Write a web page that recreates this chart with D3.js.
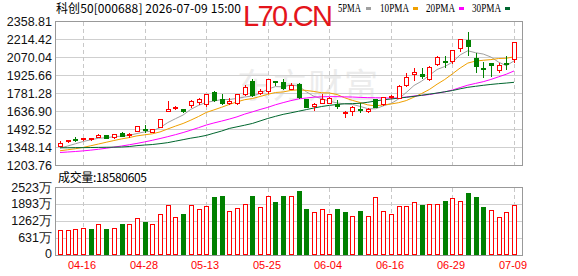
<!DOCTYPE html>
<html>
<head>
<meta charset="utf-8">
<title>科创50 日K</title>
<script src="https://d3js.org/d3.v7.min.js"></script>
<style>
body { margin: 0; background: #fff; }
svg { display: block; }
.ylab { font: 12.5px "Liberation Sans", Arial, sans-serif; fill: #111; }
.xlab { font: 11.5px "Liberation Sans", Arial, sans-serif; fill: #f00; }
.title { font: 12px "Noto Sans CJK SC", sans-serif; fill: #000; }
.legend { font: 11.5px "Liberation Serif", serif; fill: #000; }
</style>
</head>
<body>
<script>
// daily candles, 04-13 .. 07-09
var dates = ["04-13","04-14","04-15","04-16","04-17","04-20","04-21","04-22","04-23","04-24",
  "04-27","04-28","04-29","04-30","05-06","05-07","05-08","05-11","05-12","05-13",
  "05-14","05-15","05-18","05-19","05-20","05-21","05-22","05-25","05-26","05-27",
  "05-28","05-29","06-01","06-02","06-03","06-04","06-05","06-08","06-09","06-10",
  "06-11","06-12","06-15","06-16","06-17","06-18","06-22","06-23","06-24","06-25",
  "06-26","06-29","06-30","07-01","07-02","07-03","07-06","07-07","07-08","07-09"];

var open = [1358,1400,1414,1411,1412,1430,1444,1426,1463,1443,
  1479,1494,1472,1511,1637,1658,1653,1688,1712,1691,
  1789,1733,1698,1703,1770,1880,1778,1797,1880,1872,
  1813,1853,1730,1680,1703,1703,1697,1622,1637,1654,
  1638,1730,1690,1749,1745,1845,1932,1933,1893,2011,
  2040,2040,2139,2206,2060,1982,2019,1966,2020,2051];
var high = [1398,1405,1426,1424,1424,1450,1446,1453,1471,1464,
  1519,1524,1495,1575,1720,1680,1656,1725,1744,1777,
  1797,1773,1741,1777,1845,1893,1810,1897,1881,1897,
  1858,1860,1733,1705,1770,1747,1725,1636,1680,1702,
  1661,1735,1750,1765,1845,1939,1984,1978,2000,2080,
  2078,2130,2215,2268,2104,2032,2019,2024,2078,2190];
var low = [1355,1390,1399,1404,1406,1426,1420,1424,1436,1428,
  1476,1470,1465,1505,1633,1652,1630,1672,1696,1680,
  1717,1690,1695,1690,1765,1760,1770,1785,1845,1815,
  1810,1745,1665,1645,1698,1698,1657,1586,1605,1626,
  1629,1668,1685,1745,1740,1840,1885,1900,1887,2005,
  1987,2020,2118,2090,1952,1912,1920,1952,1971,2030];
var close = [1380,1403,1410,1419,1418,1443,1423,1452,1439,1451,
  1516,1488,1490,1572,1653,1672,1637,1717,1731,1773,
  1725,1698,1719,1773,1831,1765,1799,1893,1876,1819,
  1845,1751,1667,1690,1730,1743,1677,1630,1669,1650,
  1652,1672,1746,1760,1837,1912,1952,1921,1992,2072,
  2032,2126,2212,2158,1994,1979,2006,2008,2012,2188];

// volume in 万
var volume = [927,927,964,1013,964,1138,964,1013,1150,1150,
  1385,1237,1150,1509,1855,1410,1521,1855,1710,1818,
  2152,2189,1632,1744,1892,2189,1781,2189,1966,2189,
  2189,2387,1719,1596,1706,1521,1719,1596,1447,1645,
  1447,2152,1632,1521,1818,1818,1966,1855,1892,1892,
  2016,2115,2003,2300,2164,1793,1670,1410,1596,1858];

var ma5 = [1340,1356,1374,1392,1406,1418.6,1422.6,1431,1435,1441.6,
  1456.2,1469.2,1476.8,1503.4,1543.8,1575,1604.8,1650.2,1682,1706,
  1716.6,1728.8,1729.2,1737.6,1749.2,1757.2,1777.4,1812.2,1832.8,1830.4,
  1846.4,1836.8,1791.6,1754.4,1736.6,1716.2,1701.4,1694,1689.8,1673.8,
  1655.6,1654.6,1677.8,1696,1733.4,1785.4,1841.4,1876.4,1922.8,1969.8,
  1993.8,2028.6,2086.8,2120,2104.4,2093.8,2069.8,2029,2000,2038.6];
var ma10 = [1318,1326,1334,1345,1358,1372,1386,1400,1413,1423.8,
  1437.4,1445.9,1453.9,1469.2,1492.7,1515.6,1537,1563.5,1592.7,1624.9,
  1645.8,1666.8,1689.7,1709.8,1727.6,1736.9,1753.1,1770.7,1785.2,1789.8,
  1801.8,1807.1,1801.9,1793.6,1783.5,1781.3,1769.1,1742.8,1722.1,1705.2,
  1685.9,1678,1685.9,1692.9,1703.6,1720.5,1748,1777.1,1809.4,1851.6,
  1889.6,1935,1981.6,2021.4,2037.1,2043.8,2049.2,2057.9,2059.9,2071.5];
var ma20 = [1304,1308,1312,1317,1323,1330,1338,1347,1356,1366,
  1377,1389,1402,1416,1431,1447,1464,1483,1503,1524,
  1541,1556,1572,1590,1612,1630,1649,1666,1687,1704,
  1720,1734,1741,1748,1751,1752,1752,1750,1749,1746,
  1744,1743,1742,1740,1742,1749,1757,1762,1769,1780,
  1790,1805,1825,1844,1858,1872,1890,1911,1932,1958];
var ma30 = [1342,1342,1343,1343,1344,1345,1346,1347,1348,1352,
  1359,1364,1368,1375,1383,1395,1407,1419,1429,1441,
  1459,1476,1497,1510,1523,1537,1557,1577,1594,1610,
  1622,1635,1648,1661,1673,1682,1689,1695,1696,1699,
  1707,1717,1727,1733,1740,1747,1754,1763,1772,1781,
  1791,1801,1815,1827,1835,1843,1850,1856,1861,1867];

var priceTicks = [2358.81,2214.42,2070.04,1925.66,1781.28,1636.90,1492.52,1348.14,1203.76];
var volTicks = [2523,1893,1262,631,0];
var volTickLabels = ["2523万","1893万","1262万","631万","0"];
var dateTicks = ["04-16","04-28","05-13","05-25","06-04","06-16","06-29","07-09"];

var maNames = ["5PMA","10PMA","20PMA","30PMA"];
var maColors = ["#a0a0a0","#f0a000","#ff00ff","#00662e"];

var red = "#f00", green = "#008000";

var W = 578, H = 276,
    left = 55, right = 522,
    pTop = 21, pBottom = 165,
    vTop = 187, vBottom = 255;

var svg = d3.select("body").append("svg")
    .attr("width", W)
    .attr("height", H);

var x = d3.scaleLinear().domain([0, dates.length - 1]).range([60, 514]);
var y = d3.scaleLinear().domain([priceTicks[priceTicks.length - 1], priceTicks[0]]).range([pBottom, pTop]);
var yv = d3.scaleLinear().domain([0, volTicks[0]]).range([vBottom, vTop]);

function px(i) { return Math.round(x(i)); }
function py(v) { return Math.round(y(v)); }

// watermark
svg.append("text")
    .attr("x", 237).attr("y", 98)
    .attr("textLength", 141)
    .style("font", "34px 'Noto Sans CJK SC', sans-serif")
    .style("fill", "#ececec")
    .text("东方财富");

// grid
var grid = svg.append("g").attr("shape-rendering", "crispEdges");
grid.selectAll("line.h").data(priceTicks.slice(1, -1)).enter().append("line")
    .attr("x1", left).attr("x2", right)
    .attr("y1", function(d) { return py(d) + 0.5; })
    .attr("y2", function(d) { return py(d) + 0.5; })
    .style("stroke", "#cfcfcf");
grid.selectAll("line.hv").data(volTicks.slice(1, -1)).enter().append("line")
    .attr("x1", left).attr("x2", right)
    .attr("y1", function(d) { return Math.round(yv(d)) + 0.5; })
    .attr("y2", function(d) { return Math.round(yv(d)) + 0.5; })
    .style("stroke", "#cfcfcf");

var tickIdx = dateTicks.map(function(d) { return dates.indexOf(d); });
[[pTop, pBottom], [vTop, vBottom]].forEach(function(r) {
  grid.selectAll(null).data(tickIdx).enter().append("line")
      .attr("x1", function(i) { return px(i) + 0.5; })
      .attr("x2", function(i) { return px(i) + 0.5; })
      .attr("y1", r[0] + 1).attr("y2", r[1])
      .style("stroke", "#c8c8c8")
      .style("stroke-dasharray", "4,3");
});

// moving averages
var line = d3.line()
    .x(function(d, i) { return x(i); })
    .y(function(d) { return y(d); });
[ma5, ma10, ma20, ma30].forEach(function(s, k) {
  svg.append("path")
      .datum(s)
      .attr("d", line)
      .style("fill", "none")
      .style("stroke", maColors[k])
      .style("stroke-width", 1);
});

// candles
var cg = svg.append("g").attr("shape-rendering", "crispEdges");
d3.range(dates.length).forEach(function(i) {
  var cx = px(i) + 0.5,
      up = close[i] >= open[i],
      yt = py(Math.max(open[i], close[i])),
      yb = py(Math.min(open[i], close[i]));
  if (yb - yt < 1) yb = yt + 1;
  if (up) {
    cg.append("line").attr("x1", cx).attr("x2", cx)
        .attr("y1", py(high[i])).attr("y2", yt)
        .style("stroke", red);
    cg.append("line").attr("x1", cx).attr("x2", cx)
        .attr("y1", yb + 1).attr("y2", py(low[i]) + 1)
        .style("stroke", red);
    cg.append("rect")
        .attr("x", cx - 2).attr("y", yt + 0.5)
        .attr("width", 4).attr("height", yb - yt)
        .style("fill", "#fff").style("stroke", red);
  } else {
    cg.append("line").attr("x1", cx).attr("x2", cx)
        .attr("y1", py(high[i])).attr("y2", py(low[i]) + 1)
        .style("stroke", green);
    cg.append("rect")
        .attr("x", px(i) - 2).attr("y", yt)
        .attr("width", 5).attr("height", yb - yt + 1)
        .style("fill", green);
  }
});

// volume, coloured against previous close
var vg = svg.append("g").attr("shape-rendering", "crispEdges");
d3.range(dates.length).forEach(function(i) {
  var prev = i > 0 ? close[i - 1] : open[i],
      up = close[i] >= prev,
      top = Math.round(yv(volume[i]));
  if (up) {
    vg.append("rect")
        .attr("x", px(i) - 1.5).attr("y", top + 0.5)
        .attr("width", 4).attr("height", vBottom - top - 1)
        .style("fill", "#fff").style("stroke", red);
  } else {
    vg.append("rect")
        .attr("x", px(i) - 2).attr("y", top)
        .attr("width", 5).attr("height", vBottom - top)
        .style("fill", green);
  }
});

// frames
var frame = svg.append("g").attr("shape-rendering", "crispEdges")
    .style("fill", "none").style("stroke", "#999");
frame.append("rect").attr("x", left + 0.5).attr("y", pTop + 0.5)
    .attr("width", right - left).attr("height", pBottom - pTop);
frame.append("rect").attr("x", left + 0.5).attr("y", vTop + 0.5)
    .attr("width", right - left).attr("height", vBottom - vTop);

// axis labels
svg.append("g").selectAll("text").data(priceTicks).enter().append("text")
    .attr("class", "ylab")
    .attr("x", 52)
    .attr("y", function(d) { return y(d) + 4.5; })
    .attr("text-anchor", "end")
    .text(function(d) { return d.toFixed(2); });

svg.append("g").selectAll("text").data(volTicks).enter().append("text")
    .attr("class", "ylab")
    .attr("x", 52)
    .attr("y", function(d, i) { return yv(d) + (i == volTicks.length - 1 ? 2.5 : 4.5); })
    .attr("text-anchor", "end")
    .text(function(d, i) { return volTickLabels[i]; });

svg.append("g").selectAll("text").data(tickIdx).enter().append("text")
    .attr("class", "xlab")
    .attr("x", function(i) { return px(i) - 1; })
    .attr("y", 269)
    .attr("text-anchor", "middle")
    .attr("textLength", 28)
    .attr("lengthAdjust", "spacingAndGlyphs")
    .text(function(i, k) { return dateTicks[k]; });

// header
svg.append("text").attr("class", "title")
    .attr("x", 56).attr("y", 13)
    .attr("textLength", 185)
    .text("科创50[000688] 2026-07-09 15:00");

svg.append("text")
    .attr("x", 243).attr("y", 26)
    .attr("textLength", 90)
    .style("font", "29px 'Liberation Sans', Arial, sans-serif")
    .style("fill", "#e4141b")
    .text("L70.CN");

var legX = [338, 380, 426, 472], swX = [366, 413, 459, 505];
maNames.forEach(function(n, k) {
  svg.append("text").attr("class", "legend")
      .attr("x", legX[k]).attr("y", 12)
      .attr("textLength", n.length * 6 - 1)
      .attr("lengthAdjust", "spacingAndGlyphs")
      .text(n);
  svg.append("rect")
      .attr("x", swX[k]).attr("y", 7)
      .attr("width", 5).attr("height", 3)
      .style("fill", maColors[k]);
});

svg.append("text").attr("class", "title")
    .attr("x", 58).attr("y", 182)
    .attr("textLength", 89)
    .text("成交量:18580605");
</script>
</body>
</html>
